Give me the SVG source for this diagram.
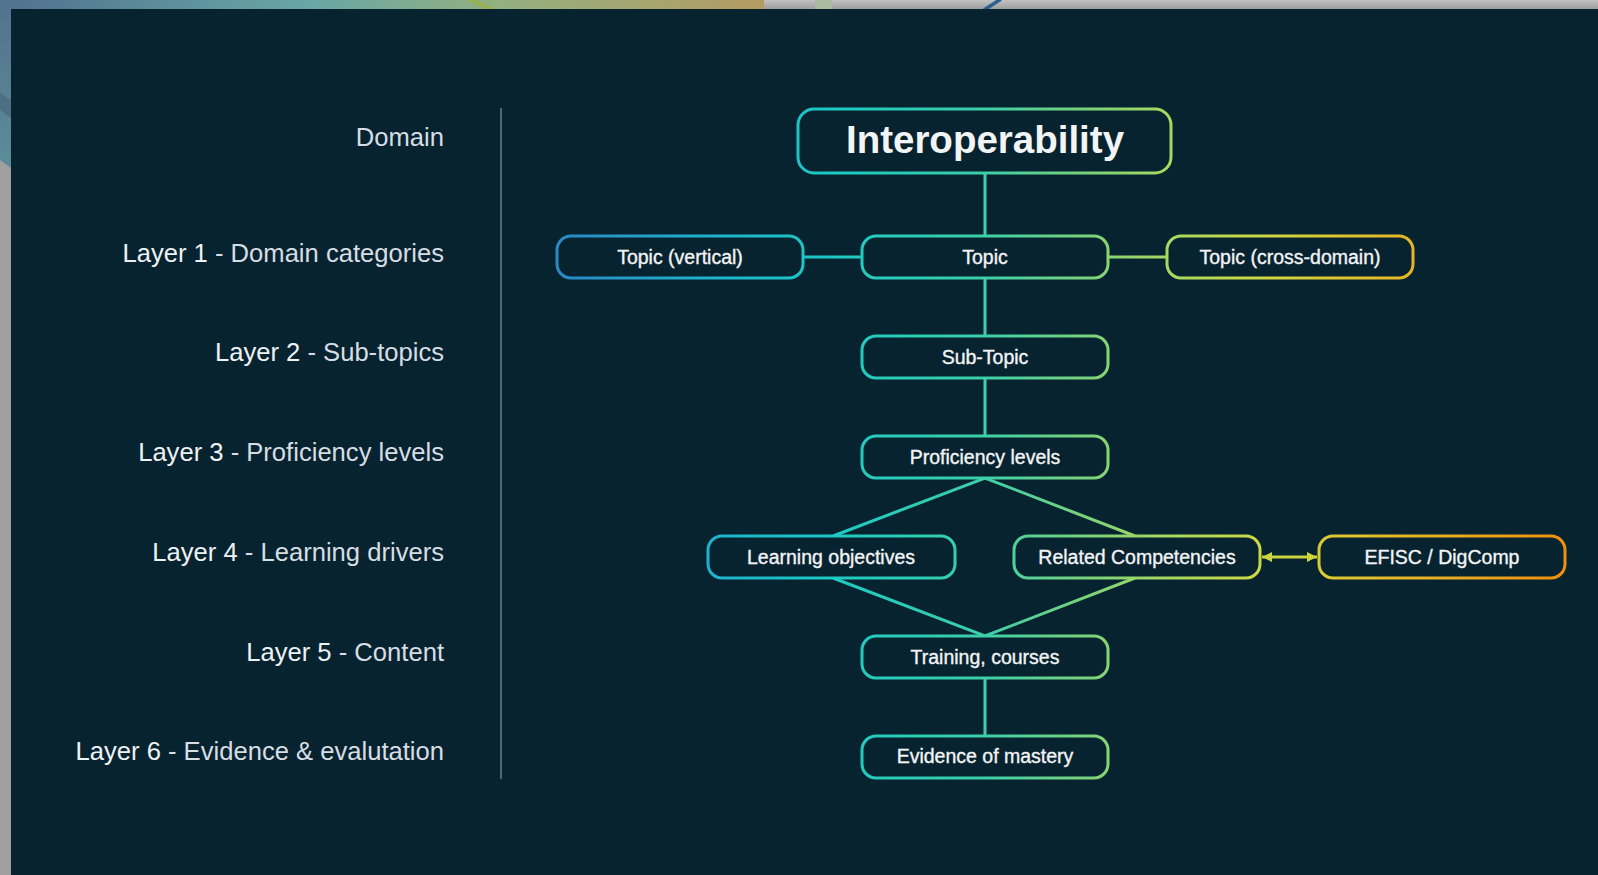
<svg xmlns="http://www.w3.org/2000/svg" width="1598" height="875" viewBox="0 0 1598 875">
  <defs>
    <linearGradient id="flow" gradientUnits="userSpaceOnUse" x1="550" y1="0" x2="1570" y2="0">
      <stop offset="0" stop-color="#2b86c4"/>
      <stop offset="0.147" stop-color="#1fb0cc"/>
      <stop offset="0.275" stop-color="#1cc9c4"/>
      <stop offset="0.426" stop-color="#3ccfa8"/>
      <stop offset="0.547" stop-color="#86d472"/>
      <stop offset="0.608" stop-color="#a8d860"/>
      <stop offset="0.696" stop-color="#ccd842"/>
      <stop offset="0.765" stop-color="#dcc832"/>
      <stop offset="0.882" stop-color="#e8ac22"/>
      <stop offset="1" stop-color="#f08e0c"/>
    </linearGradient>
    <linearGradient id="topband" x1="0" y1="0" x2="1" y2="0">
      <stop offset="0" stop-color="#50708e"/>
      <stop offset="0.4" stop-color="#68a6a6"/>
      <stop offset="0.65" stop-color="#92b080"/>
      <stop offset="1" stop-color="#b49c62"/>
    </linearGradient>
    <linearGradient id="greyband" x1="0" y1="0" x2="0" y2="1">
      <stop offset="0" stop-color="#c2c2c2"/>
      <stop offset="1" stop-color="#9e9e9e"/>
    </linearGradient>
    <linearGradient id="leftband" x1="0" y1="0" x2="0" y2="1">
      <stop offset="0" stop-color="#52728e"/>
      <stop offset="1" stop-color="#5c8c98"/>
    </linearGradient>
    <marker id="arrow" viewBox="0 0 10 10" refX="10" refY="5" markerWidth="10" markerHeight="11" markerUnits="userSpaceOnUse" orient="auto-start-reverse">
      <path d="M0,0 L10,5 L0,10 z" fill="#cbd63e"/>
    </marker>
    <style>
      .node rect { fill: #082330; stroke: url(#flow); stroke-width: 3; }
      .node text { font-family: "Liberation Sans", Arial, sans-serif; font-size: 19.5px; fill: #f2f4f5; stroke: #f2f4f5; stroke-width: 0.35; text-anchor: middle; }
      .node text.title { font-size: 38.5px; font-weight: bold; stroke: none; }
      .edge { fill: none; stroke: url(#flow); stroke-width: 3; }
      .lbl { font-family: "Liberation Sans", Arial, sans-serif; font-size: 25.6px; fill: #eef2f4; text-anchor: end; }
      .lbl .lt { fill: #d6dee3; }
    </style>
  </defs>

  <!-- backdrop (window edges) -->
  <rect x="0" y="0" width="1598" height="875" fill="#a0a0a0"/>
  <rect x="0" y="0" width="1598" height="9" fill="url(#greyband)"/>
  <rect x="0" y="0" width="764" height="9" fill="url(#topband)"/>
  <line x1="468" y1="-1" x2="494" y2="10" stroke="#9aae52" stroke-width="4"/>
  <rect x="815" y="0" width="17" height="9" fill="#a9bba1"/>
  <line x1="1001" y1="-1" x2="984" y2="10" stroke="#2a5f8e" stroke-width="3.5"/>
  <polygon points="0,0 11,0 11,168 0,160" fill="url(#leftband)"/>
  <polygon points="0,93 11,100 11,118 0,110" fill="#46687f" opacity="0.7"/>

  <!-- main panel -->
  <rect x="11" y="9" width="1587" height="866" fill="#082330"/>

  <!-- layer labels -->
  <g id="labels">
    <text class="lbl" x="444" y="146"><tspan class="lt">Domain</tspan></text>
    <text class="lbl" x="444" y="262">Layer 1<tspan class="lt"> - Domain categories</tspan></text>
    <text class="lbl" x="444" y="361">Layer 2<tspan class="lt"> - Sub-topics</tspan></text>
    <text class="lbl" x="444" y="461">Layer 3<tspan class="lt"> - Proficiency levels</tspan></text>
    <text class="lbl" x="444" y="561">Layer 4<tspan class="lt"> - Learning drivers</tspan></text>
    <text class="lbl" x="444" y="661">Layer 5<tspan class="lt"> - Content</tspan></text>
    <text class="lbl" x="444" y="760">Layer 6<tspan class="lt"> - Evidence &amp; evalutation</tspan></text>
    <line x1="501" y1="108" x2="501" y2="779" stroke="#5e7888" stroke-width="1.6"/>
  </g>

  <!-- connectors -->
  <g id="connectors">
    <line class="edge" x1="985" y1="173" x2="985" y2="236"/>
    <line class="edge" x1="803" y1="257" x2="862" y2="257"/>
    <line class="edge" x1="1108" y1="257" x2="1167" y2="257"/>
    <line class="edge" x1="985" y1="278" x2="985" y2="336"/>
    <line class="edge" x1="985" y1="378" x2="985" y2="436"/>
    <polyline class="edge" points="833,536 985,478 1135,536"/>
    <polyline class="edge" points="833,578 985,636 1135,578"/>
    <line class="edge" x1="985" y1="678" x2="985" y2="736"/>
    <line x1="1262" y1="557" x2="1317" y2="557" stroke="#cbd63e" stroke-width="3" marker-start="url(#arrow)" marker-end="url(#arrow)"/>
  </g>

  <!-- nodes -->
  <g id="n-interoperability" class="node">
    <rect x="798" y="109" width="373" height="64" rx="16"/>
    <text class="title" x="985" y="153">Interoperability</text>
  </g>
  <g id="n-topic-vertical" class="node">
    <rect x="557" y="236" width="246" height="42" rx="14"/>
    <text x="680" y="263.5">Topic (vertical)</text>
  </g>
  <g id="n-topic" class="node">
    <rect x="862" y="236" width="246" height="42" rx="14"/>
    <text x="985" y="263.5">Topic</text>
  </g>
  <g id="n-topic-cross" class="node">
    <rect x="1167" y="236" width="246" height="42" rx="14"/>
    <text x="1290" y="263.5">Topic (cross-domain)</text>
  </g>
  <g id="n-subtopic" class="node">
    <rect x="862" y="336" width="246" height="42" rx="14"/>
    <text x="985" y="363.5">Sub-Topic</text>
  </g>
  <g id="n-proficiency" class="node">
    <rect x="862" y="436" width="246" height="42" rx="14"/>
    <text x="985" y="463.5">Proficiency levels</text>
  </g>
  <g id="n-learning" class="node">
    <rect x="708" y="536" width="247" height="42" rx="14"/>
    <text x="831" y="563.5">Learning objectives</text>
  </g>
  <g id="n-related" class="node">
    <rect x="1014" y="536" width="246" height="42" rx="14"/>
    <text x="1137" y="563.5">Related Competencies</text>
  </g>
  <g id="n-efisc" class="node">
    <rect x="1319" y="536" width="246" height="42" rx="14"/>
    <text x="1442" y="563.5">EFISC / DigComp</text>
  </g>
  <g id="n-training" class="node">
    <rect x="862" y="636" width="246" height="42" rx="14"/>
    <text x="985" y="663.5">Training, courses</text>
  </g>
  <g id="n-evidence" class="node">
    <rect x="862" y="736" width="246" height="42" rx="14"/>
    <text x="985" y="762.5">Evidence of mastery</text>
  </g>
</svg>
